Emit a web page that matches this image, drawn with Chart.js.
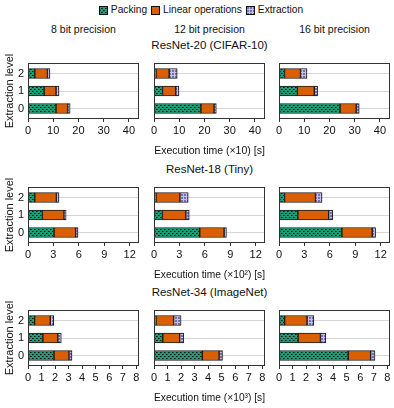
<!DOCTYPE html>
<html>
<head>
<meta charset="utf-8">
<script src="https://cdn.jsdelivr.net/npm/chart.js@4.4.1/dist/chart.umd.min.js"></script>
<style>
  body { margin: 0; background: #fff; font-family: "Liberation Sans", Arial, sans-serif; color: #111; }
  #fig { position: relative; width: 394px; height: 408px; overflow: hidden; }
  #fig canvas.panel { position: absolute; }
  .lbl { position: absolute; white-space: nowrap; transform: translate(-50%, -50%); line-height: 1; }
  #legend { position: absolute; top: 5px; left: 0; width: 402px; display: flex; justify-content: center; align-items: center; font-size: 10.2px; line-height: 1; }
  #legend .item { display: flex; align-items: center; margin: 0 2px; }
  #legend canvas { margin-right: 3px; }
</style>
</head>
<body>
<div id="fig">
  <div id="legend"></div>
</div>
<script>
// Categories, series and labels
const levels = [0, 1, 2];
const seriesNames = ["Packing", "Linear operations", "Extraction"];
const precisions = ["8 bit precision", "12 bit precision", "16 bit precision"];
const models = ["ResNet-20 (CIFAR-10)", "ResNet-18 (Tiny)", "ResNet-34 (ImageNet)"];
const timeTitles = ["Execution time (×10) [s]", "Execution time (×10²) [s]", "Execution time (×10³) [s]"];
const timeTicks = [[0, 10, 20, 30, 40], [0, 3, 6, 9, 12], [0, 1, 2, 3, 4, 5, 6, 7, 8]];
const timeMax = [44, 13.1, 8.2];

// ResNet-20 (CIFAR-10), one list per precision, levels 0, 1, 2
const resnet20Packing = [[11.1, 6.4, 2.7], [18.6, 3.4, 0.8], [24.2, 7.3, 2.2]];
const resnet20Linear = [[4.6, 4.7, 5.0], [5.2, 5.2, 5.2], [6.4, 6.7, 6.3]];
const resnet20Extraction = [[1.0, 1.2, 1.0], [0.9, 1.3, 3.2], [1.2, 1.3, 2.6]];

// ResNet-18 (Tiny)
const resnet18Packing = [[3.07, 1.7, 0.8], [5.4, 1.0, 0.24], [7.42, 2.23, 0.66]];
const resnet18Linear = [[2.56, 2.55, 2.55], [2.87, 2.76, 2.82], [3.58, 3.63, 3.64]];
const resnet18Extraction = [[0.27, 0.25, 0.31], [0.28, 0.4, 0.98], [0.4, 0.47, 0.78]];

// ResNet-34 (ImageNet)
const resnet34Packing = [[1.92, 1.1, 0.49], [3.57, 0.65, 0.15], [5.11, 1.41, 0.42]];
const resnet34Linear = [[1.11, 1.1, 1.16], [1.24, 1.25, 1.3], [1.66, 1.65, 1.65]];
const resnet34Extraction = [[0.22, 0.26, 0.25], [0.25, 0.3, 0.55], [0.32, 0.4, 0.5]];

const packingData = [resnet20Packing, resnet18Packing, resnet34Packing];
const linearData = [resnet20Linear, resnet18Linear, resnet34Linear];
const extractionData = [resnet20Extraction, resnet18Extraction, resnet34Extraction];

// Panel layout
const colLeft = [28, 154, 279];
const rowTop = [63, 187, 310];
const panelW = 111;
const panelH = 56;
const yAxisW = 28;
const xAxisH = 38;
const padTop = 12;
const padRight = 8;

const fig = document.getElementById("fig");
const textColor = "#111";
const fontFamily = "'Liberation Sans', Arial, sans-serif";

// Fill patterns
function makeTile(kind) {
  const t = document.createElement("canvas");
  const g = t.getContext("2d");
  if (kind === "dots") {
    t.width = 4; t.height = 4;
    g.fillStyle = "#1b9e77";
    g.fillRect(0, 0, 4, 4);
    g.fillStyle = "#0f4a39";
    g.fillRect(1, 0, 1, 1);
    g.fillRect(3, 2, 1, 1);
    g.fillStyle = "#050f0b";
    g.fillRect(0, 0, 1, 1);
    g.fillRect(2, 2, 1, 1);
  } else {
    t.width = 3; t.height = 3;
    g.fillStyle = "#7570b3";
    g.fillRect(0, 0, 3, 3);
    g.fillStyle = "#c4c1e4";
    g.fillRect(0, 0, 3, 1);
    g.fillRect(0, 0, 1, 3);
  }
  return t;
}

const scratch = document.createElement("canvas").getContext("2d");
const fills = [
  scratch.createPattern(makeTile("dots"), "repeat"),
  "#d95f02",
  scratch.createPattern(makeTile("grid"), "repeat"),
];

// Legend
const legend = document.getElementById("legend");
seriesNames.forEach((name, i) => {
  const item = document.createElement("span");
  item.className = "item";
  const sw = document.createElement("canvas");
  sw.width = 9; sw.height = 9;
  const g = sw.getContext("2d");
  g.fillStyle = fills[i];
  g.fillRect(0, 0, 9, 9);
  g.strokeStyle = "#111";
  g.strokeRect(0.5, 0.5, 8, 8);
  item.appendChild(sw);
  item.appendChild(document.createTextNode(name));
  legend.appendChild(item);
});

function addLabel(text, x, y, size) {
  const d = document.createElement("div");
  d.className = "lbl";
  d.style.left = x + "px";
  d.style.top = y + "px";
  d.style.fontSize = size + "px";
  d.textContent = text;
  fig.appendChild(d);
}

// Column and row headings
precisions.forEach((p, c) => addLabel(p, colLeft[c] + panelW / 2, 29, 10.5));
models.forEach((m, r) => addLabel(m, colLeft[1] + panelW / 2, rowTop[r] - 17, 11.5));

// Frame around each plot area
const framePlugin = {
  id: "frame",
  afterDatasetsDraw(chart) {
    const { ctx, chartArea: a } = chart;
    ctx.save();
    ctx.strokeStyle = "#333";
    ctx.lineWidth = 1;
    ctx.strokeRect(a.left + 0.5, a.top + 0.5, a.width - 1, a.height - 1);
    ctx.restore();
  },
};

function drawPanel(r, c) {
  const canvas = document.createElement("canvas");
  canvas.className = "panel";
  canvas.width = yAxisW + panelW + padRight;
  canvas.height = padTop + panelH + xAxisH;
  canvas.style.left = colLeft[c] - yAxisW + "px";
  canvas.style.top = rowTop[r] - padTop + "px";
  fig.appendChild(canvas);

  const seriesValues = [packingData[r][c], linearData[r][c], extractionData[r][c]];

  new Chart(canvas, {
    type: "bar",
    data: {
      datasets: seriesNames.map((name, i) => ({
        label: name,
        data: levels.map((lv, k) => ({ x: seriesValues[i][k], y: lv })),
        backgroundColor: fills[i],
        borderColor: "#1a1a1a",
        borderWidth: 1,
        borderSkipped: false,
        barThickness: 10,
      })),
    },
    options: {
      indexAxis: "y",
      responsive: false,
      animation: false,
      devicePixelRatio: 1,
      layout: { padding: { top: padTop, right: padRight, left: 0, bottom: 0 } },
      plugins: { legend: { display: false }, tooltip: { enabled: false } },
      scales: {
        x: {
          type: "linear",
          stacked: true,
          min: 0,
          max: timeMax[r],
          afterFit: (s) => { s.height = xAxisH; },
          border: { display: false },
          grid: { drawOnChartArea: false, tickLength: 3, color: "#333" },
          ticks: {
            stepSize: timeTicks[r][1] - timeTicks[r][0],
            includeBounds: false,
            autoSkip: false,
            maxRotation: 0,
            padding: 2,
            color: textColor,
            font: { family: fontFamily, size: 11 },
          },
          title: {
            display: c === 1,
            text: timeTitles[r],
            padding: 0,
            color: textColor,
            font: { family: fontFamily, size: 10.5 },
          },
        },
        y: {
          type: "linear",
          stacked: true,
          offset: false,
          min: -0.6,
          max: 2.6,
          afterFit: (s) => { s.width = yAxisW; },
          border: { display: false },
          grid: { color: "#d6d6d6", drawTicks: false, offset: false },
          ticks: {
            display: c === 0,
            stepSize: 1,
            includeBounds: false,
            padding: 4,
            color: textColor,
            font: { family: fontFamily, size: 11 },
          },
          title: {
            display: c === 0,
            text: "Extraction level",
            padding: { top: 3, bottom: 0 },
            color: textColor,
            font: { family: fontFamily, size: 11 },
          },
        },
      },
    },
    plugins: [framePlugin],
  });
}

for (let r = 0; r < 3; r++) {
  for (let c = 0; c < 3; c++) {
    drawPanel(r, c);
  }
}
</script>
</body>
</html>
